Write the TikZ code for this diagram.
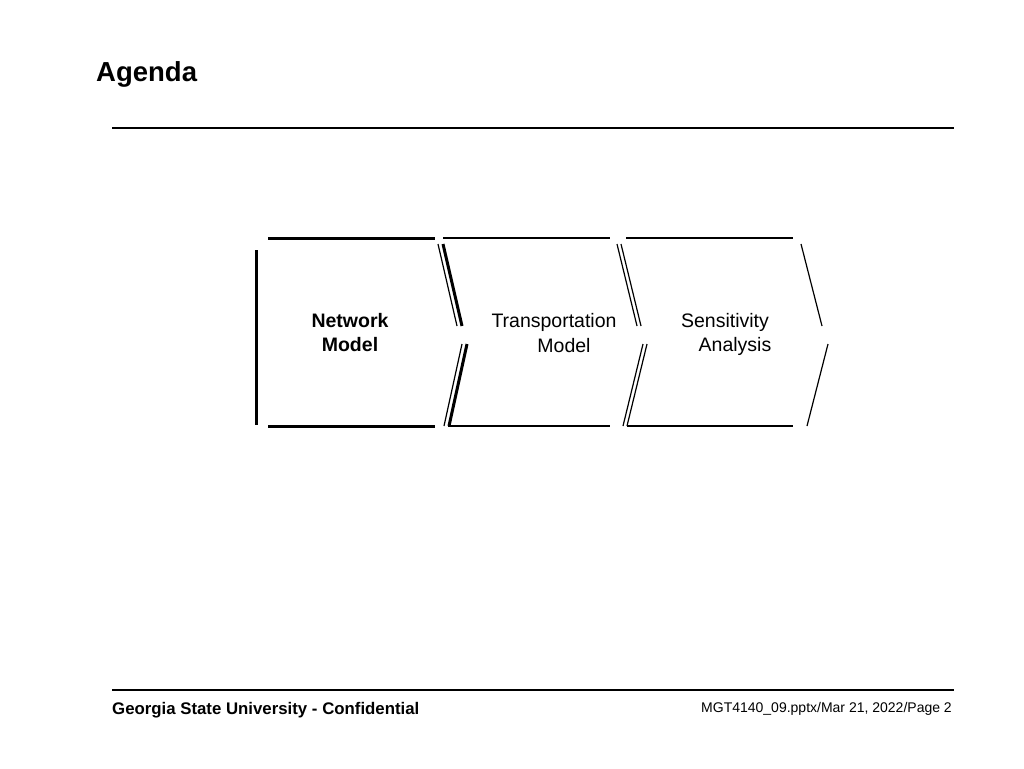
\documentclass[tikz,border=0pt]{standalone}
\usepackage{fontspec}
\setmainfont{Liberation Sans}
\begin{document}
\begin{tikzpicture}[x=1pt,y=-1pt,
 thk/.style={line width=3pt},
 thn/.style={line width=1.2pt},
 lbl/.style={font=\fontsize{19.5}{24}\selectfont,align=center,inner sep=0}]
\useasboundingbox (0,0) rectangle (1024,768);
\node[anchor=west,font=\fontsize{27.5}{32}\bfseries\selectfont,inner sep=0] (title) at (96,74) {Agenda};
\draw[line width=1.5pt] (112,128) -- (954,128);
\draw[line width=1.5pt] (112,690) -- (954,690);
\node[anchor=west,font=\fontsize{16.8}{20}\bfseries\selectfont,inner sep=0] (f1) at (112,710) {Georgia State University - Confidential};
\node[anchor=east,font=\fontsize{14}{18}\selectfont,inner sep=0] (f2) at (952,709) {MGT4140\_09.pptx/Mar 21, 2022/Page 2};
% box 1
\draw[thk] (256,250) -- (256,425);
\draw[thk] (268,238) -- (435,238);
\draw[thk] (268,426) -- (435,426);
\draw[thk] (443,244) -- (462,326);
\draw[thk] (467,344) -- (449,426);
% box 2
\draw[thn] (443,238) -- (610,238);
\draw[thn] (448,426) -- (610,426);
\draw[thn] (438,244) -- (457,326);
\draw[thn] (462,344) -- (444,426);
\draw[thn] (617,244) -- (637,326);
\draw[thn] (621,244) -- (641,326);
\draw[thn] (643,344) -- (623,426);
\draw[thn] (647,344) -- (627,426);
% box 3
\draw[thn] (626,238) -- (793,238);
\draw[thn] (627,426) -- (793,426);
\draw[thn] (801,244) -- (822,326);
\draw[thn] (828,344) -- (807,426);
\node[lbl,font=\fontsize{19.5}{24}\bfseries\selectfont] (n1) at (350,333) {Network\\Model};
\node[lbl] (n2a) at (554,322) {Transportation};
\node[lbl] (n2b) at (564,346) {Model};
\node[lbl] (n3a) at (725,322) {Sensitivity};
\node[lbl] (n3b) at (735,346) {Analysis};
\end{tikzpicture}
\end{document}
